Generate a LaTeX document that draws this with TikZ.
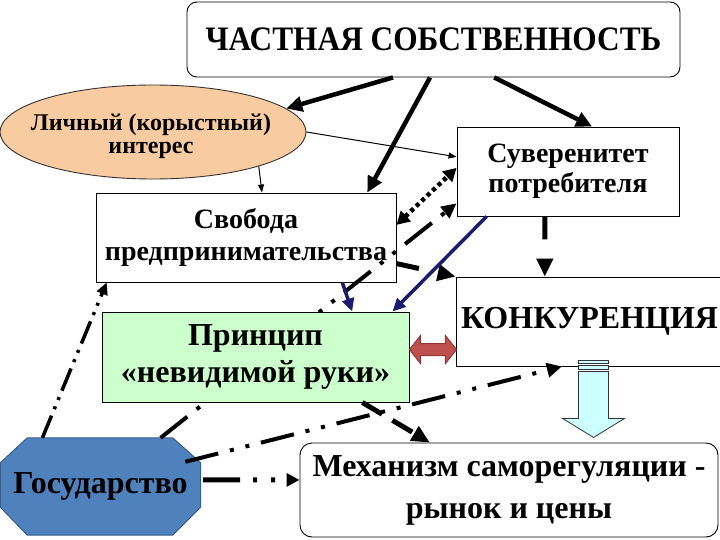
\documentclass[tikz,border=0pt]{standalone}
\usepackage{fontspec}
\setmainfont{Liberation Serif}
\usetikzlibrary{arrows.meta,shapes.geometric,calc}
\pgfdeclarelayer{bg}
\pgfsetlayers{bg,main}
\definecolor{peach}{HTML}{F8CBA0}
\definecolor{mint}{HTML}{CCFFCC}
\definecolor{govblue}{HTML}{4F81BD}
\definecolor{govedge}{HTML}{385D8A}
\definecolor{navyline}{HTML}{1C1C6E}
\definecolor{redfill}{HTML}{C0504D}
\definecolor{rededge}{HTML}{8C3836}
\definecolor{cyanfill}{HTML}{CCFFFF}
\begin{document}
\begin{tikzpicture}[x=1pt,y=-1pt,
  box/.style={draw=black, line width=0.9pt, fill=white, inner sep=0pt, align=center, text=black},
  txt/.style={inner sep=0pt, align=center, text=black},
  thickarr/.style={line width=4.5pt, -{Triangle[length=16pt,width=15pt]}},
  thinarr/.style={line width=1pt, -{Triangle[length=8pt,width=6pt]}},
  navyarr/.style={draw=navyline, fill=navyline, line width=3.5pt, -{Triangle[length=13pt,width=12pt]}},
  dotarr/.style={line width=4.5pt, dash pattern=on 4pt off 3.5pt, {Triangle[length=13pt,width=14pt]}-{Triangle[length=13pt,width=14pt]}},
  shortdash/.style={line width=5pt, dash pattern=on 23pt off 20pt, -{Triangle[length=18pt,width=16pt]}},
  dasharr/.style={line width=5pt, dash pattern=on 23pt off 12pt, -{Triangle[length=18pt,width=16pt]}},
  ddotarr/.style={line width=4pt, dash pattern=on 34pt off 12pt on 4pt off 12pt on 4pt off 12pt, -{Triangle[length=15pt,width=14pt]}},
  ddotsmall/.style={line width=3.5pt, dash pattern=on 24pt off 7pt on 3pt off 7pt on 3pt off 7pt, -{Triangle[length=12pt,width=11pt]}},
  govmech/.style={line width=5pt, dash pattern=on 37pt off 13pt on 4pt off 14pt on 4pt off 30pt, -{Triangle[length=13pt,width=13pt]}}
]
\useasboundingbox (0,0) rectangle (720,540);

% nodes
\node[box, rounded corners=10pt, minimum width=493pt, minimum height=75pt,
  font=\bfseries\fontsize{33}{38}\selectfont] (priv) at (433.5,39.5) {\scalebox{0.95}[1.04]{ЧАСТНАЯ СОБСТВЕННОСТЬ}};
\node[ellipse, draw=black!80, line width=0.9pt, fill=peach, minimum width=306pt, minimum height=94pt, inner sep=0pt] (ell) at (153,132) {};
\node[txt, font=\bfseries\fontsize{24}{23}\selectfont] (elltext) at (151,136) {Личный (корыстный)\\интерес};
\node[box, minimum width=222pt, minimum height=89pt,
  font=\bfseries\fontsize{28}{30}\selectfont] (sov) at (568,171.5) {Суверенитет\\потребителя};
\node[box, minimum width=300pt, minimum height=89pt,
  font=\bfseries\fontsize{28}{32}\selectfont] (free) at (246,237.5) {Свобода\\предпринимательства};
\node[box, minimum width=267pt, minimum height=89pt,
  font=\bfseries\fontsize{32}{36}\selectfont] (konk) at (589.5,321.5) {КОНКУРЕНЦИЯ};
\node[txt, minimum width=200pt, minimum height=97pt,
  font=\bfseries\fontsize{32}{36}\selectfont] (gov) at (100.5,486.5) {Государство};
\begin{pgfonlayer}{bg}
\filldraw[fill=govblue, draw=govedge, line width=1pt]
  ($(gov.north west)+(27,0)$) -- ($(gov.north east)+(-28,0)$) -- ($(gov.north east)+(0,25)$)
  -- ($(gov.south east)+(0,-28)$) -- ($(gov.south east)+(-28,0)$) -- ($(gov.south west)+(27,0)$)
  -- ($(gov.south west)+(0,-28)$) -- ($(gov.north west)+(0,25)$) -- cycle;
\end{pgfonlayer}
\node[box, rounded corners=12pt, minimum width=418pt, minimum height=94pt,
  font=\bfseries\fontsize{32}{42}\selectfont] (mech) at (509,490) {Механизм саморегуляции -\\рынок и цены};

% line passing over Свобода and under Принцип
\draw[ddotarr] ($(gov.north west)!0.8!(gov.north east)$) -- ($(sov.north west)!0.854!(sov.south west)$);

\node[box, fill=mint, minimum width=307pt, minimum height=90pt,
  font=\bfseries\fontsize{32}{37}\selectfont] (prin) at (255.5,357) {Принцип\\«невидимой руки»};

% connectors
\draw[thickarr] ($(priv.south west)!0.418!(priv.south east)$) -- (ell.10);
\draw[thickarr] ($(priv.south west)!0.493!(priv.south east)$) -- ($(free.north west)!0.903!(free.north east)$);
\draw[thickarr] ($(priv.south west)!0.623!(priv.south east)$) -- ($(sov.north west)!0.608!(sov.north east)$);
\draw[thinarr] (ell.east) -- ($(sov.north west)!0.337!(sov.south west)$);
\draw[thinarr] (ell.-18) -- ($(free.north west)!0.553!(free.north east)$);
\draw[dotarr] ($(free.north east)!0.36!(free.south east)$) -- ($(sov.north west)!0.46!(sov.south west)$);
\draw[shortdash] ($(free.north east)!0.79!(free.south east)$) -- (konk.north west);
\draw[shortdash] ($(sov.south west)!0.396!(sov.south east)$) -- ($(konk.north west)!0.333!(konk.north east)$);
\draw[navyarr] ($(free.south west)!0.82!(free.south east)$) -- ($(prin.north west)!0.814!(prin.north east)$);
\draw[navyarr] ($(sov.south west)!0.135!(sov.south east)$) -- ($(prin.north west)!0.945!(prin.north east)$);
\draw[dasharr] ($(prin.south west)!0.847!(prin.south east)$) -- ($(mech.north west)!0.311!(mech.north east)$);
\draw[ddotsmall] ($(gov.north west)!0.21!(gov.north east)$) -- ($(free.south west)!0.037!(free.south east)$);
\draw[ddotarr] ($(gov.north west)+(185,24)$) -- ($(konk.south west)!0.397!(konk.south east)$);
\draw[govmech] ($(gov.north east)+(2.5,42)$) -- ($(mech.north west)!0.394!(mech.south west)$);

% red double block arrow between Принцип and КОНКУРЕНЦИЯ
\coordinate (ra) at ($(prin.north east)+(0,38)$);
\begin{scope}[shift={(ra)}]
\filldraw[fill=redfill, draw=rededge, line width=1pt]
  (0,0) -- (11,-14) -- (11,-6) -- (36,-6) -- (36,-14) -- (47,0) -- (36,14) -- (36,6) -- (11,6) -- (11,14) -- cycle;
\end{scope}

% light blue striped block arrow down to the mechanism
\coordinate (ba) at ($(konk.south west)+(138,0)$);
\begin{scope}[shift={(ba)}]
\filldraw[fill=cyanfill, draw=black!80, line width=0.8pt] (-15,-6) rectangle (15,-3);
\filldraw[fill=cyanfill, draw=black!80, line width=0.8pt] (-15,-1) rectangle (15,3);
\filldraw[fill=cyanfill, draw=black!80, line width=0.8pt]
  (-15,5) -- (15,5) -- (15,52) -- (31,52) -- (0,71) -- (-31,52) -- (-15,52) -- cycle;
\end{scope}
\end{tikzpicture}
\end{document}
